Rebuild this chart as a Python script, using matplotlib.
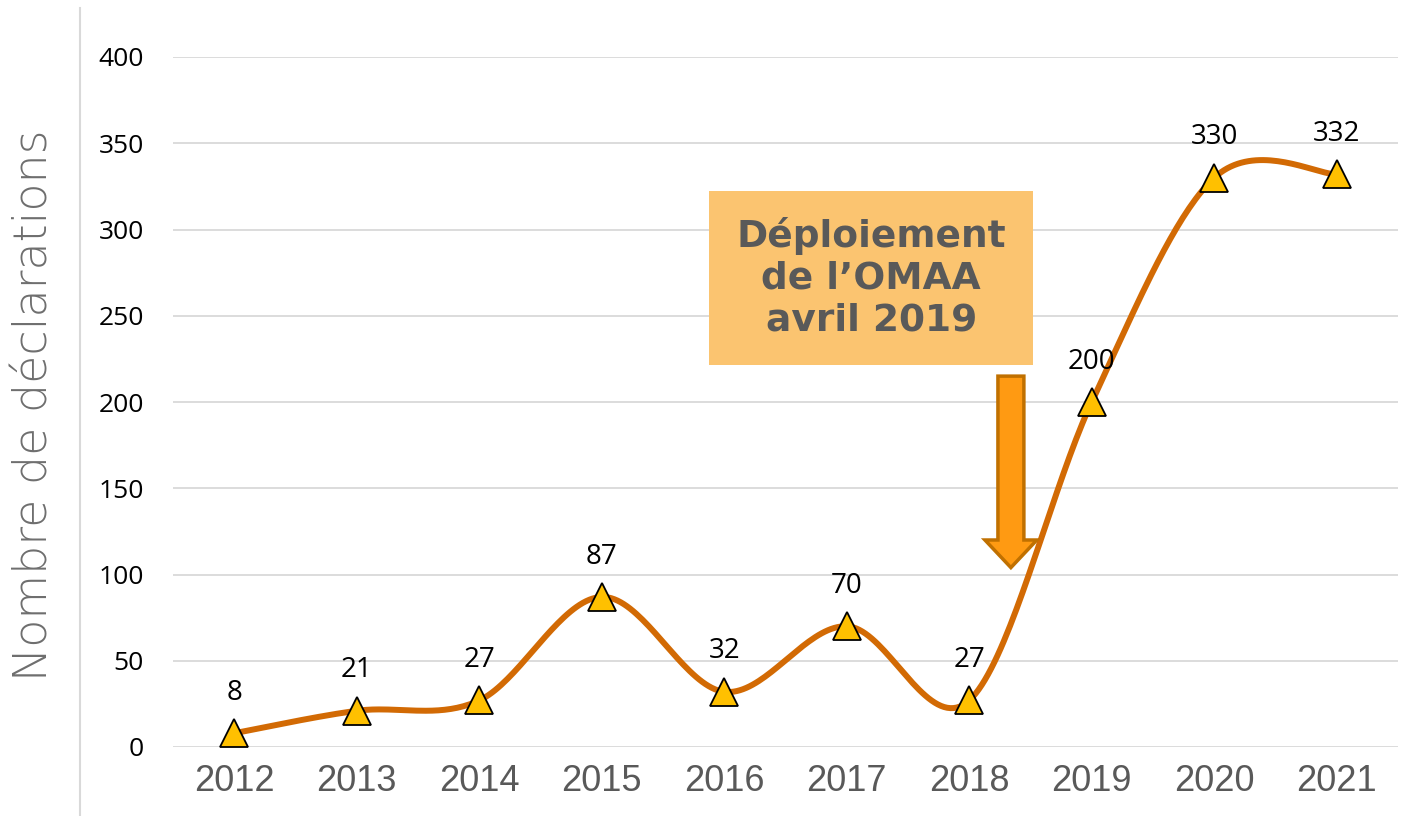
import numpy as np
import matplotlib
matplotlib.use("Agg")
import matplotlib.pyplot as plt
from matplotlib.patches import Polygon, Rectangle
from matplotlib.lines import Line2D

years = ["2012", "2013", "2014", "2015", "2016", "2017", "2018", "2019", "2020", "2021"]
values = [8, 21, 27, 87, 32, 70, 27, 200, 330, 332]
yticks = [0, 50, 100, 150, 200, 250, 300, 350, 400]

line_col = "#D26A04"
marker_col = "#FFC000"
grid_col = "#D9D9D9"


def smooth(xs, ys, n=40):
    # catmull-rom style bezier, like Excel's smoothed line
    xs = np.asarray(xs, float)
    ys = np.asarray(ys, float)
    px = np.concatenate([[xs[0]], xs, [xs[-1]]])
    py = np.concatenate([[ys[0]], ys, [ys[-1]]])
    outx, outy = [], []
    t = np.linspace(0, 1, n)
    for i in range(1, len(px) - 2):
        p0 = np.array([px[i], py[i]])
        p3 = np.array([px[i + 1], py[i + 1]])
        c1 = p0 + (np.array([px[i + 1], py[i + 1]]) - np.array([px[i - 1], py[i - 1]])) / 6
        c2 = p3 - (np.array([px[i + 2], py[i + 2]]) - np.array([px[i], py[i]])) / 6
        b = ((1 - t) ** 3)[:, None] * p0 + (3 * (1 - t) ** 2 * t)[:, None] * c1 \
            + (3 * (1 - t) * t ** 2)[:, None] * c2 + (t ** 3)[:, None] * p3
        outx.extend(b[:, 0])
        outy.extend(b[:, 1])
    return outx, outy


fig = plt.figure(figsize=(14.09, 8.16), dpi=100)
ax = fig.add_axes([173 / 1409, 69 / 816, 1225 / 1409, 690 / 816])

x = np.arange(len(years))
sx, sy = smooth(x, values)
ax.plot(sx, sy, color=line_col, lw=4.3, solid_capstyle="round", zorder=3)
ax.plot(x, values, ls="none", marker="^", ms=20, mfc=marker_col, mec="black", mew=1.3, zorder=4)

for xi, v in zip(x, values):
    ax.annotate(str(v), (xi, v), xytext=(0, 19), textcoords="offset points",
                ha="center", va="bottom", fontsize=20, family="Open Sans", color="black")

ax.set_xlim(-0.5, len(years) - 0.5)
ax.set_ylim(0, 400)
ax.set_yticks(yticks)
ax.set_xticks(x)
ax.set_xticklabels(years, fontsize=26, color="#595959", family="Liberation Sans")
for lab in ax.get_yticklabels():
    lab.set_fontsize(19)
    lab.set_family("Open Sans")
ax.tick_params(axis="both", length=0)
ax.tick_params(axis="y", pad=21)
ax.tick_params(axis="x", pad=12)
ax.grid(axis="y", color=grid_col, lw=1.3)
ax.set_axisbelow(True)
for s in ax.spines.values():
    s.set_visible(False)

# annotation box
ax.add_patch(Rectangle((3.876, 221.4), 2.645, 101, facecolor="#FBC470", edgecolor="none", zorder=5))
ax.text(5.2, 272, "Déploiement\nde l’OMAA\navril 2019", ha="center", va="center",
        fontsize=27, fontweight="bold", color="#595959", family="DejaVu Sans",
        linespacing=1.2, zorder=6)

# arrow
cx = 6.34
sw, hw = 0.106, 0.212
arrow = Polygon([(cx - sw, 215), (cx + sw, 215), (cx + sw, 120), (cx + hw, 120),
                 (cx, 104), (cx - hw, 120), (cx - sw, 120)],
                closed=True, facecolor="#FF9A12", edgecolor="#C07000", lw=2.5, zorder=5)
ax.add_patch(arrow)

fig.text(35 / 1409, 1 - 405 / 816, "Nombre de déclarations", rotation=90, ha="center", va="center",
         fontsize=33, color="#6E6E6E", family="DejaVu Sans", fontweight="light")
fig.add_artist(Line2D([80 / 1409, 80 / 1409], [0, 1 - 8 / 816], color="#D9D9D9", lw=1.5))

fig.savefig("out.png", dpi=100)
